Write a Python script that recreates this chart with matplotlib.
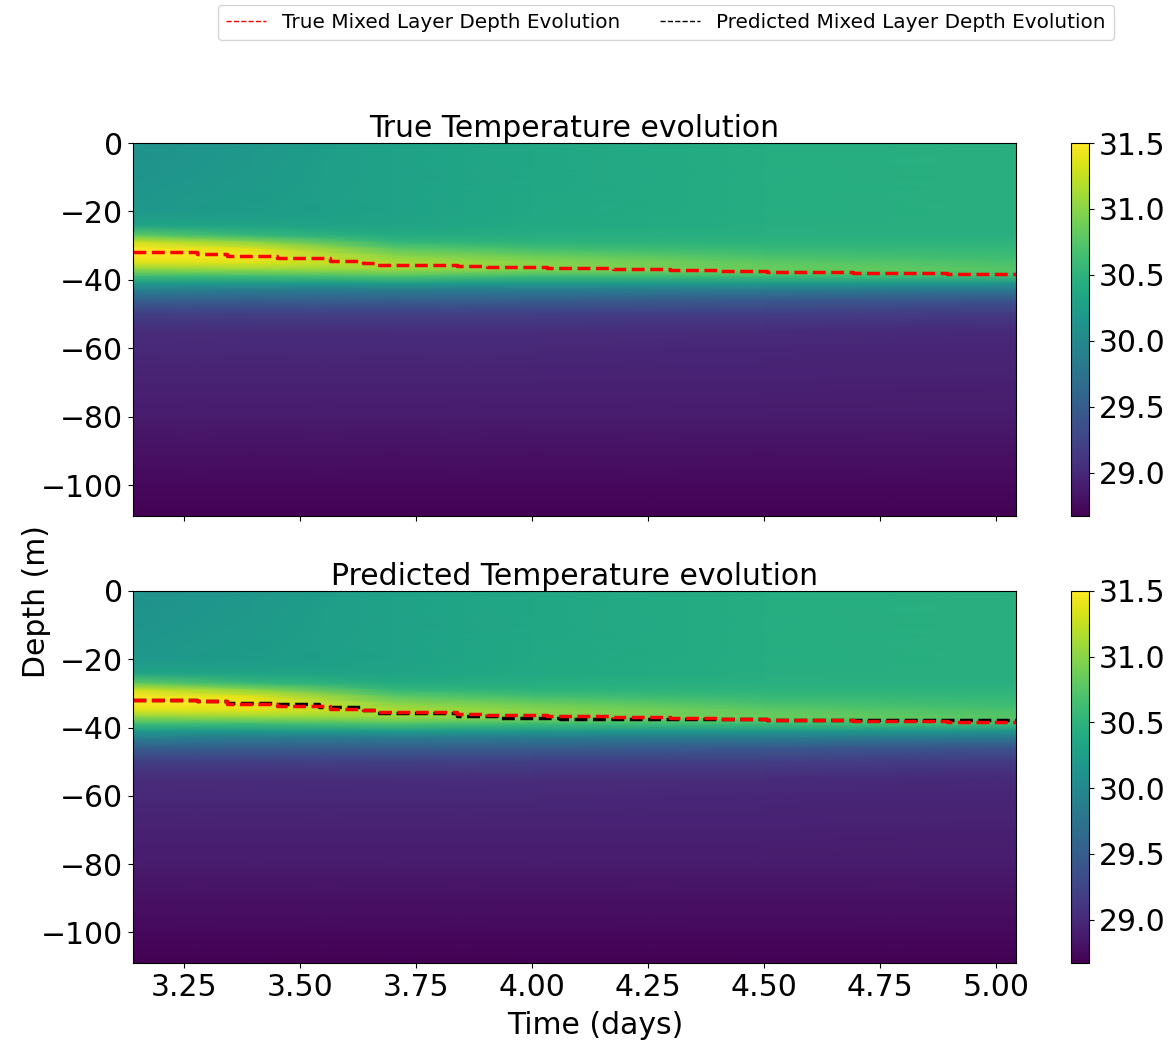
import numpy as np
import matplotlib
matplotlib.use("Agg")
import matplotlib.pyplot as plt
from matplotlib.lines import Line2D

# ---------------- data ----------------
# time columns (days) of the temperature field
time_cols = [3.14, 3.40, 3.70, 4.00, 4.50, 5.045]
# depth levels (m)
depth_levels = [0, -10, -20, -24, -27, -29, -31, -33, -35, -37, -39, -41, -43,
                -46, -50, -55, -60, -70, -80, -90, -100, -109]

# temperature (deg C): one row per depth level, one column per time column
temp_true = [
    [30.12, 30.18, 30.30, 30.36, 30.42, 30.45],   # 0
    [30.13, 30.20, 30.30, 30.36, 30.42, 30.46],   # -10
    [30.18, 30.22, 30.30, 30.37, 30.42, 30.46],   # -20
    [30.30, 30.30, 30.32, 30.38, 30.43, 30.46],   # -24
    [30.80, 30.55, 30.40, 30.42, 30.45, 30.47],   # -27
    [31.30, 31.00, 30.55, 30.50, 30.50, 30.50],   # -29
    [31.50, 31.35, 30.80, 30.65, 30.58, 30.55],   # -31
    [31.50, 31.45, 31.00, 30.85, 30.68, 30.60],   # -33
    [31.35, 31.35, 31.15, 31.00, 30.80, 30.68],   # -35
    [31.00, 31.05, 31.05, 30.95, 30.85, 30.75],   # -37
    [30.60, 30.60, 30.70, 30.60, 30.60, 30.60],   # -39
    [30.20, 30.20, 30.25, 30.20, 30.20, 30.15],   # -41
    [29.90, 29.85, 29.85, 29.85, 29.85, 29.80],   # -43
    [29.50, 29.50, 29.50, 29.50, 29.45, 29.40],   # -46
    [29.20, 29.20, 29.20, 29.20, 29.18, 29.15],   # -50
    [29.02, 29.02, 29.03, 29.03, 29.02, 29.00],   # -55
    [28.98, 28.98, 28.98, 28.98, 28.97, 28.96],   # -60
    [28.93, 28.93, 28.93, 28.93, 28.93, 28.92],   # -70
    [28.87, 28.87, 28.87, 28.87, 28.87, 28.87],   # -80
    [28.80, 28.80, 28.80, 28.80, 28.80, 28.80],   # -90
    [28.73, 28.73, 28.73, 28.73, 28.73, 28.73],   # -100
    [28.67, 28.67, 28.67, 28.67, 28.67, 28.67],   # -109
]
temp_pred = temp_true

# mixed layer depth (m) - step changes
mld_true_t = [3.140, 3.277, 3.342, 3.450, 3.565, 3.636, 3.665, 3.838, 3.902,
              4.032, 4.175, 4.297, 4.398, 4.506, 4.692, 4.894, 5.043]
mld_true_d = [-31.8, -32.3, -33.0, -33.7, -34.5, -35.0, -35.6, -35.9, -36.2,
              -36.5, -36.8, -37.1, -37.4, -37.7, -38.0, -38.3, -38.3]
mld_pred_t = [3.140, 3.277, 3.342, 3.440, 3.540, 3.636, 3.665, 3.838, 3.930,
              4.060, 4.506, 4.894, 5.043]
mld_pred_d = [-31.8, -32.1, -32.9, -33.2, -34.1, -34.9, -35.7, -36.7, -37.2,
              -37.5, -37.7, -37.8, -37.8]

x_ticks = [3.25, 3.50, 3.75, 4.00, 4.25, 4.50, 4.75, 5.00]
y_ticks = [0, -20, -40, -60, -80, -100]
cb_ticks = [29.0, 29.5, 30.0, 30.5, 31.0, 31.5]

titles = ["True Temperature evolution", "Predicted Temperature evolution"]

# ---------------- plot ----------------
W, H = 1169, 1046
fig = plt.figure(figsize=(W / 100, H / 100), dpi=100)

def fx(px):
    return px / W

def fy(py):
    return 1 - py / H

ax_left, ax_right = 133, 1016
panels = [(143, 516), (591, 963)]
cb_left, cb_right = 1071, 1089

T, Z = np.meshgrid(time_cols, depth_levels)
vmin = min(min(r) for r in temp_true)
vmax = max(max(r) for r in temp_true)

fs = 21.5
for i, ((top, bot), field) in enumerate(zip(panels, [temp_true, temp_pred])):
    ax = fig.add_axes([fx(ax_left), fy(bot), fx(ax_right - ax_left), (bot - top) / H])
    mesh = ax.pcolormesh(T, Z, np.array(field), shading="gouraud", cmap="viridis",
                         vmin=vmin, vmax=vmax)
    if i == 1:
        ax.plot(mld_pred_t, mld_pred_d, color="black", ls="--", lw=2.5,
                drawstyle="steps-post")
    ax.plot(mld_true_t, mld_true_d, color="red", ls="--", lw=2.5,
            drawstyle="steps-post")
    ax.set_xlim(3.14, 5.043)
    ax.set_ylim(-109, 0)
    ax.set_xticks(x_ticks)
    ax.set_yticks(y_ticks)
    ax.tick_params(labelsize=fs)
    if i == 0:
        ax.set_xticklabels([])
    else:
        ax.set_xticklabels([f"{v:.2f}" for v in x_ticks])
    ax.set_title(titles[i], fontsize=fs, pad=4)
    cax = fig.add_axes([fx(cb_left), fy(bot), fx(cb_right - cb_left), (bot - top) / H])
    cb = fig.colorbar(mesh, cax=cax)
    cb.set_ticks(cb_ticks)
    cb.ax.tick_params(labelsize=fs)

fig.text(fx(37), fy(602), "Depth (m)", rotation=90, fontsize=fs,
         ha="center", va="center")
fig.text(fx(595), fy(1025), "Time (days)", fontsize=fs, ha="center", va="center")

handles = [Line2D([0], [0], color="red", ls="--", lw=1),
           Line2D([0], [0], color="black", ls="--", lw=1)]
fig.legend(handles, ["True Mixed Layer Depth Evolution",
                     "Predicted Mixed Layer Depth Evolution"],
           loc="upper center", bbox_to_anchor=(fx(666), 1.005), ncol=2, fontsize=14.4)

fig.savefig("out.png", dpi=100)
